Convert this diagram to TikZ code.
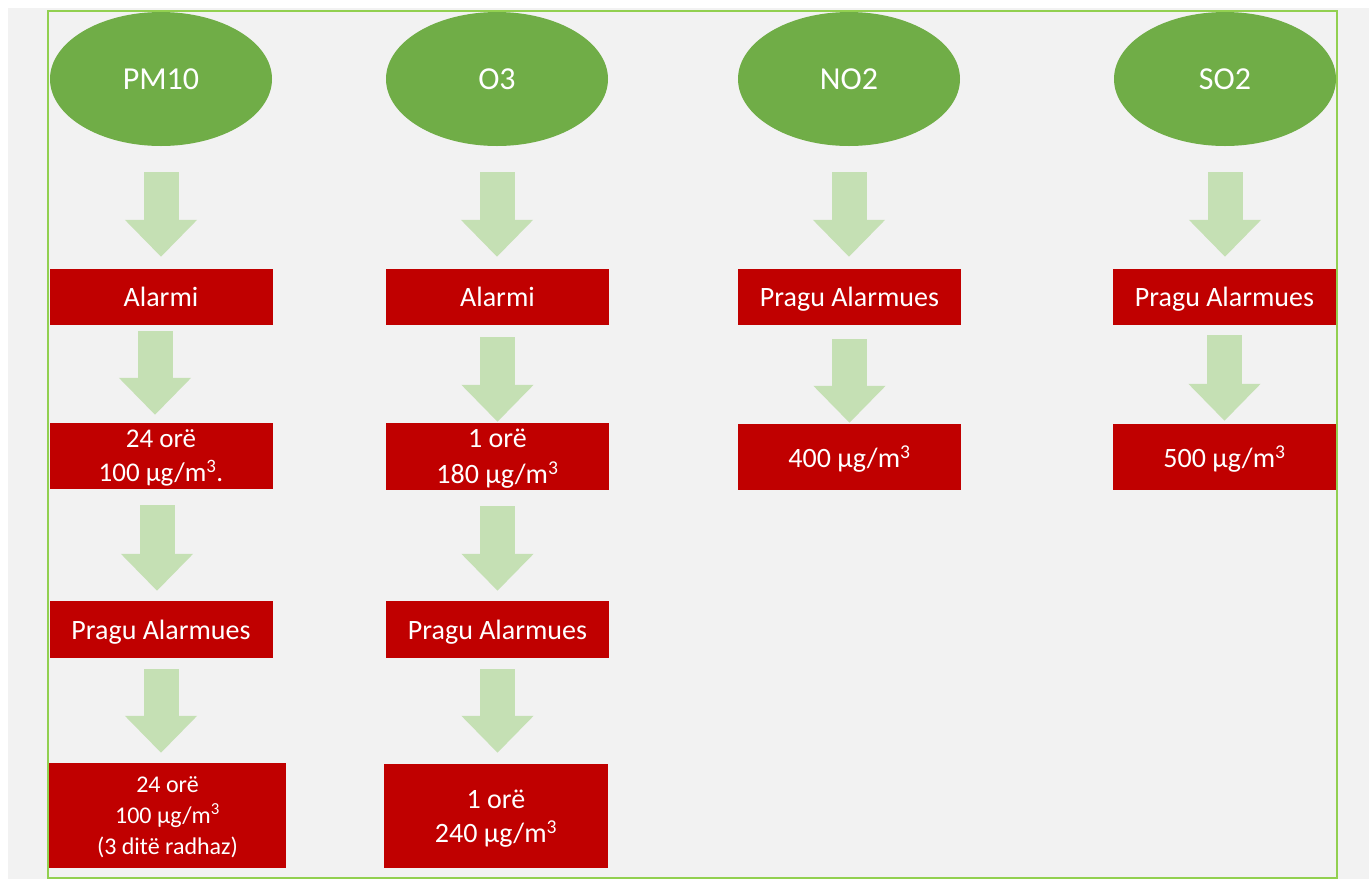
\documentclass[tikz,border=0pt]{standalone}
\usepackage{fontspec}
\setmainfont{Carlito}
\usepackage{tikz}
\usetikzlibrary{shapes.geometric,arrows.meta}
\definecolor{bggray}{HTML}{F2F2F2}
\definecolor{framegreen}{HTML}{92D050}
\definecolor{ovalgreen}{HTML}{70AD47}
\definecolor{boxred}{HTML}{C00000}
\definecolor{arrowgreen}{HTML}{C5E0B4}

\begin{document}
\begin{tikzpicture}[x=1pt,y=-1pt,
	pollutant/.style={ellipse,fill=ovalgreen,text=white,minimum width=222pt,minimum height=134pt,inner sep=0pt,font=\fontsize{32}{38}\selectfont},
	level/.style={rectangle,fill=boxred,text=white,minimum width=223pt,minimum height=56pt,inner sep=0pt,text depth=0pt,align=center,font=\fontsize{28}{34}\selectfont},
	smalltext/.style 2 args={font=\fontsize{#1}{#2}\selectfont},
	fatarrow/.style={arrowgreen,line width=35pt,-{Triangle[width=70pt,length=37pt]}}]
	\useasboundingbox (0,0) rectangle (1369,879);
	\fill[white] (0,0) rectangle (1369,879);
	\fill[bggray] (8,8) rectangle (1369,879);
	\draw[framegreen,line width=2pt] (48,11) rectangle (1337,878);

	\node[pollutant] (pm) at (161,79) {PM10};
	\node[pollutant] (oz) at (497,79) {O3};
	\node[pollutant] (no) at (849,79) {NO2};
	\node[pollutant] (so) at (1225,79) {SO2};

	% PM10
	\node[level] (pmalarm) at (161,297) {Alarmi};
	\node[level,minimum height=66pt,smalltext={27}{34}] (pmval) at (161,456) {24 orë\\100 µg/m\textsuperscript{3}.};
	\node[level,minimum height=57pt] (pmprag) at (161,629.5) {Pragu Alarmues};
	\node[level,minimum width=237pt,minimum height=105pt,smalltext={24}{31}] (pmlast) at (167.5,815.5) {24 orë\\100 µg/m\textsuperscript{3}\\(3 ditë radhaz)};
	\draw[fatarrow,shorten <=26pt,shorten >=12pt] (pm) -- (pmalarm);
	\draw[fatarrow,shorten <=6pt,shorten >=8pt] ([xshift=-6pt]pmalarm.south) -- ([xshift=-6pt]pmval.north);
	\draw[fatarrow,shorten <=16pt,shorten >=10pt] ([xshift=-4pt]pmval.south) -- ([xshift=-4pt]pmprag.north);
	\draw[fatarrow,shorten <=11pt,shorten >=10pt] (pmprag.south) -- (pmprag.south |- pmlast.north);

	% O3
	\node[level] (ozalarm) at (497.5,297) {Alarmi};
	\node[level,minimum height=67pt,smalltext={28}{36}] (ozval) at (497.5,456.5) {1 orë\\180 µg/m\textsuperscript{3}};
	\node[level,minimum height=57pt] (ozprag) at (497.5,629.5) {Pragu Alarmues};
	\node[level,minimum width=224pt,minimum height=104pt,smalltext={28}{34}] (ozlast) at (496,816) {1 orë\\240 µg/m\textsuperscript{3}};
	\draw[fatarrow,shorten <=26pt,shorten >=12pt] (oz) -- (oz |- ozalarm.north);
	\draw[fatarrow,shorten <=12pt,shorten >=1pt] (ozalarm) -- (ozval);
	\draw[fatarrow,shorten <=16pt,shorten >=10pt] (ozval) -- (ozprag);
	\draw[fatarrow,shorten <=11pt,shorten >=11pt] (ozprag.south) -- (ozprag.south |- ozlast.north);

	% NO2
	\node[level] (noprag) at (849.5,297) {Pragu Alarmues};
	\node[level,minimum height=66pt] (noval) at (849.5,457) {400 µg/m\textsuperscript{3}};
	\draw[fatarrow,shorten <=26pt,shorten >=12pt] (no) -- (no |- noprag.north);
	\draw[fatarrow,shorten <=14pt,shorten >=1pt] (noprag) -- (noval);

	% SO2
	\node[level] (soprag) at (1224.5,297) {Pragu Alarmues};
	\node[level,minimum height=66pt] (soval) at (1224.5,457) {500 µg/m\textsuperscript{3}};
	\draw[fatarrow,shorten <=26pt,shorten >=12pt] (so) -- (so |- soprag.north);
	\draw[fatarrow,shorten <=10pt,shorten >=3pt] (soprag) -- (soval);
\end{tikzpicture}
\end{document}
